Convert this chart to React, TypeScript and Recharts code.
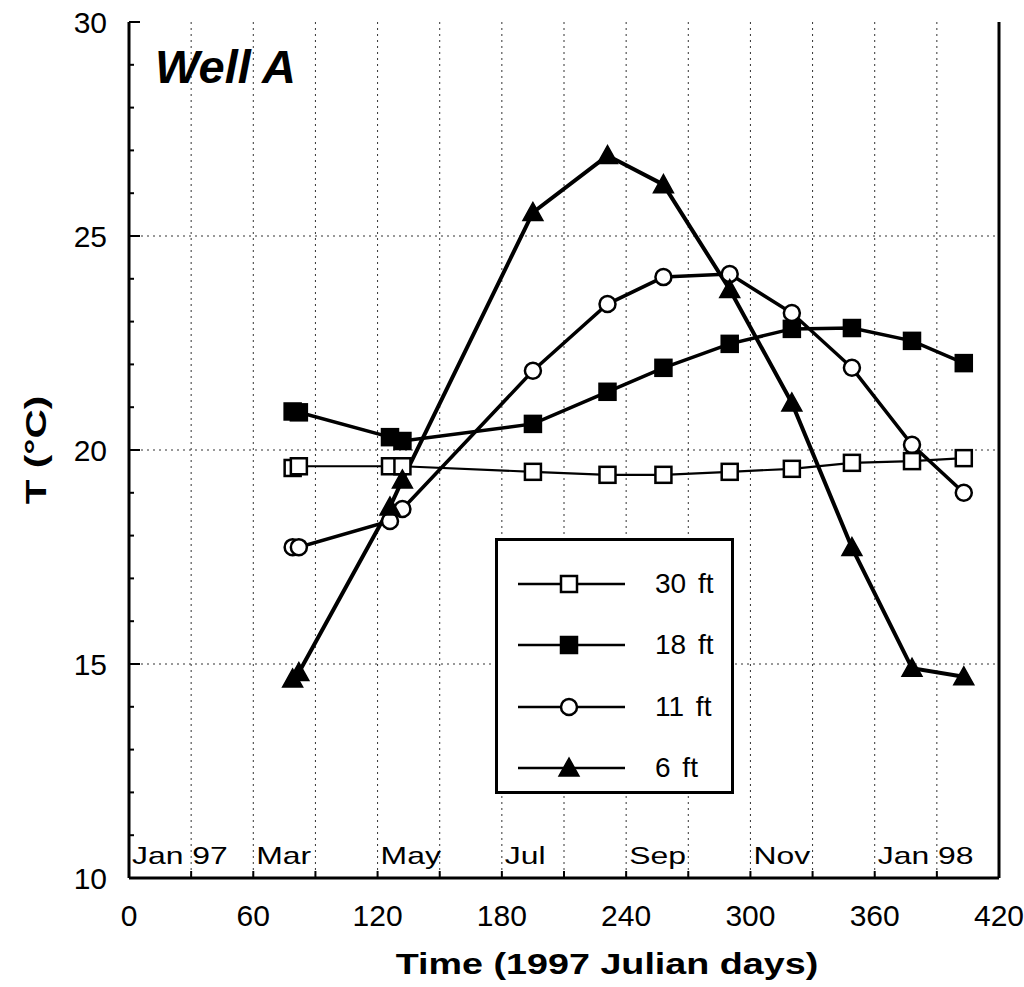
import React from "react";
import { CartesianGrid, Legend, Line, LineChart, XAxis, YAxis } from "recharts";

// sampling days (1997 Julian days) shared by all depths
const DAYS = [79, 82, 126, 132, 195, 231, 258, 290, 320, 349, 378, 403];
// temperatures (°C) per depth
const T_30FT = [19.58, 19.62, 19.62, 19.62, 19.49, 19.42, 19.42, 19.49, 19.56, 19.7, 19.74, 19.81];
const T_18FT = [20.9, 20.88, 20.3, 20.21, 20.61, 21.36, 21.92, 22.48, 22.83, 22.85, 22.55, 22.03];
const T_11FT = [17.73, 17.73, 18.34, 18.62, 21.85, 23.41, 24.04, 24.11, 23.2, 21.92, 20.12, 19.0];
const T_6FT = [14.65, 14.8, 18.67, 19.3, 25.55, 26.88, 26.2, 23.75, 21.1, 17.72, 14.9, 14.7];

const X_TICKS = [0, 30, 60, 90, 120, 150, 180, 210, 240, 270, 300, 330, 360, 390, 420];
const X_LABELS = [0, 60, 120, 180, 240, 300, 360, 420];
const X_GRID = [30, 60, 90, 120, 150, 180, 210, 240, 270, 300, 330, 360, 390];
const MONTH_DAYS = [0, 60, 120, 180, 240, 300, 360];
const MONTH_LABELS = ["Jan 97", "Mar", "May", "Jul", "Sep", "Nov", "Jan 98"];
const Y_TICKS = [10, 11, 12, 13, 14, 15, 16, 17, 18, 19, 20, 21, 22, 23, 24, 25, 26, 27, 28, 29, 30];
const Y_LABELS = [10, 15, 20, 25, 30];
const Y_GRID = [15, 20, 25];

const SERIES = [
  { key: "t30", name: "30 ft", shape: "square", filled: false, width: 2.2 },
  { key: "t18", name: "18 ft", shape: "square", filled: true, width: 3.5 },
  { key: "t11", name: "11 ft", shape: "circle", filled: false, width: 3.5 },
  { key: "t6", name: "6 ft", shape: "triangle", filled: true, width: 4 },
];

const data = DAYS.map((day, i) => ({
  day,
  t30: T_30FT[i],
  t18: T_18FT[i],
  t11: T_11FT[i],
  t6: T_6FT[i],
}));

const FONT = '"Liberation Sans", Arial, Helvetica, sans-serif';

function Marker({ shape, filled, cx, cy }: any) {
  const fill = filled ? "#000" : "#fff";
  if (shape === "square")
    return <rect x={cx - 8} y={cy - 8} width={16} height={16} fill={fill} stroke="#000" strokeWidth={2.5} />;
  if (shape === "circle") return <circle cx={cx} cy={cy} r={8} fill={fill} stroke="#000" strokeWidth={2.5} />;
  return (
    <polygon
      points={`${cx},${cy - 10} ${cx - 10},${cy + 8} ${cx + 10},${cy + 8}`}
      fill={fill}
      stroke="#000"
      strokeWidth={1.5}
    />
  );
}

function XTick({ x, y, payload }: any) {
  const v = payload.value;
  const m = MONTH_DAYS.indexOf(v);
  return (
    <g>
      <line x1={x} y1={y} x2={x} y2={y - 7} stroke="#000" strokeWidth={2} />
      {X_LABELS.includes(v) && (
        <text x={x} y={y + 48} textAnchor="middle" fontSize={30} fill="#000" fontFamily={FONT}>
          {v}
        </text>
      )}
      {m >= 0 && (
        <text transform={`translate(${x + 3},${y - 14}) scale(1.33,1)`} fontSize={24} fill="#000" fontFamily={FONT}>
          {MONTH_LABELS[m]}
        </text>
      )}
    </g>
  );
}

function YTickLeft({ x, y, payload }: any) {
  const major = Y_LABELS.includes(payload.value);
  return (
    <g>
      <line x1={x} y1={y} x2={x + (major ? 11 : 5)} y2={y} stroke="#000" strokeWidth={2} />
      {major && (
        <text x={x - 22} y={y + 11} textAnchor="end" fontSize={30} fill="#000" fontFamily={FONT}>
          {payload.value}
        </text>
      )}
    </g>
  );
}

function YTickRight({ x, y, payload }: any) {
  const major = Y_LABELS.includes(payload.value);
  return <line x1={x} y1={y} x2={x - (major ? 14 : 6)} y2={y} stroke="#000" strokeWidth={2} />;
}

function LegendBox() {
  return (
    <div
      style={{
        width: 239,
        height: 256,
        boxSizing: "border-box",
        border: "3px solid #000",
        background: "#fff",
        paddingTop: 12,
        fontFamily: FONT,
      }}
    >
      {SERIES.map((s) => (
        <div key={s.key} style={{ display: "flex", alignItems: "center", height: 61.5 }}>
          <svg width={130} height={30} style={{ marginLeft: 17 }}>
            <line x1={3} y1={15} x2={110} y2={15} stroke="#000" strokeWidth={2.5} />
            <Marker shape={s.shape} filled={s.filled} cx={54} cy={15} />
          </svg>
          <span style={{ fontSize: 28, marginLeft: 10, wordSpacing: 4 }}>{s.name}</span>
        </div>
      ))}
    </div>
  );
}

export default function App() {
  return (
    <div style={{ fontFamily: FONT }}>
      <style>{`body{margin:0}`}</style>
      <LineChart width={1024} height={987} data={data} margin={{ top: 22, right: 0, bottom: 0, left: 0 }}>
        <CartesianGrid
          stroke="#333"
          strokeDasharray="2 4"
          horizontalValues={Y_GRID}
          verticalValues={X_GRID}
        />
        <XAxis
          dataKey="day"
          type="number"
          domain={[0, 420]}
          ticks={X_TICKS}
          interval={0}
          height={109}
          tickSize={0}
          tickMargin={0}
          tickLine={false}
          tick={<XTick />}
          axisLine={{ stroke: "#000", strokeWidth: 3 }}
        />
        <XAxis
          xAxisId="top"
          orientation="top"
          type="number"
          domain={[0, 420]}
          height={0}
          tick={false}
          tickLine={false}
          axisLine={{ stroke: "#000", strokeWidth: 3 }}
        />
        <YAxis
          type="number"
          domain={[10, 30]}
          ticks={Y_TICKS}
          interval={0}
          width={129}
          tickSize={0}
          tickMargin={0}
          tickLine={false}
          tick={<YTickLeft />}
          axisLine={{ stroke: "#000", strokeWidth: 3 }}
        />
        <YAxis
          yAxisId="right"
          orientation="right"
          type="number"
          domain={[10, 30]}
          ticks={Y_TICKS}
          interval={0}
          width={25}
          tickSize={0}
          tickMargin={0}
          tickLine={false}
          tick={<YTickRight />}
          axisLine={{ stroke: "#000", strokeWidth: 3 }}
        />
        {SERIES.map((s) => (
          <Line
            key={s.key}
            type="linear"
            dataKey={s.key}
            name={s.name}
            stroke="#000"
            strokeWidth={s.width}
            isAnimationActive={false}
            dot={(p: any) => <Marker key={`${s.key}-${p.index}`} shape={s.shape} filled={s.filled} cx={p.cx} cy={p.cy} />}
            activeDot={false}
          />
        ))}
        <Legend
          layout="vertical"
          verticalAlign="middle"
          align="center"
          wrapperStyle={{ left: 495, top: 538, width: 239, height: 256 }}
          content={() => <LegendBox />}
        />
        <text x={155} y={83} fontSize={47} fontWeight="bold" fontStyle="italic" fill="#000" fontFamily={FONT}>
          Well A
        </text>
        <text
          transform="translate(607,974) scale(1.3,1)"
          textAnchor="middle"
          fontSize={29}
          fontWeight="bold"
          fill="#000"
          fontFamily={FONT}
        >
          Time (1997 Julian days)
        </text>
        <text
          transform="translate(46,450) rotate(-90) scale(1.4,1)"
          textAnchor="middle"
          fontSize={29}
          fontWeight="bold"
          fill="#000"
          fontFamily={FONT}
        >
          T (°C)
        </text>
      </LineChart>
    </div>
  );
}
